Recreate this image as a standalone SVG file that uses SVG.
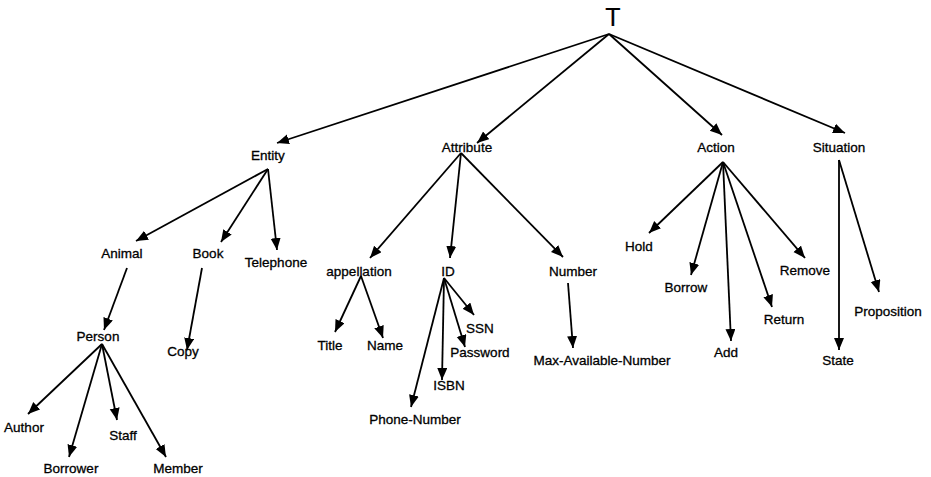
<svg xmlns="http://www.w3.org/2000/svg" width="931" height="477" viewBox="0 0 931 477">
  <defs>
    <marker id="arrow" markerUnits="userSpaceOnUse" markerWidth="13" markerHeight="11" refX="12" refY="5" orient="auto">
      <path d="M0,0 L12,5 L0,10 Z" fill="#000"/>
    </marker>
  </defs>
  <style>
    text { font-family: "Liberation Sans", Arial, sans-serif; font-size: 13.5px; fill: #000; stroke: #000; stroke-width: 0.3; text-anchor: middle; }
    .root { font-size: 25px; stroke-width: 0.2; }
    .edge { stroke: #000; stroke-width: 1.8; fill: none; marker-end: url(#arrow); }
  </style>
  <rect width="931" height="477" fill="#fff"/>

  <!-- connectors -->
  <g id="connectors">
    <line class="edge" x1="609" y1="34" x2="277" y2="143"/>
    <line class="edge" x1="609" y1="34" x2="477" y2="143"/>
    <line class="edge" x1="609" y1="34" x2="722" y2="135"/>
    <line class="edge" x1="609" y1="34" x2="845" y2="133"/>

    <line class="edge" x1="268" y1="169" x2="136" y2="241"/>
    <line class="edge" x1="268" y1="169" x2="221" y2="242"/>
    <line class="edge" x1="268" y1="169" x2="277" y2="250"/>

    <line class="edge" x1="127" y1="268" x2="104" y2="330"/>
    <line class="edge" x1="202" y1="268" x2="187" y2="350"/>

    <line class="edge" x1="102" y1="344" x2="28" y2="414"/>
    <line class="edge" x1="102" y1="344" x2="69" y2="457"/>
    <line class="edge" x1="102" y1="344" x2="117" y2="420"/>
    <line class="edge" x1="102" y1="344" x2="166" y2="457"/>

    <line class="edge" x1="461" y1="153" x2="370" y2="258"/>
    <line class="edge" x1="461" y1="153" x2="450" y2="258"/>
    <line class="edge" x1="461" y1="153" x2="563" y2="257"/>

    <line class="edge" x1="361" y1="276" x2="335" y2="332"/>
    <line class="edge" x1="361" y1="276" x2="383" y2="338"/>

    <line class="edge" x1="444" y1="278" x2="474" y2="315"/>
    <line class="edge" x1="444" y1="278" x2="465" y2="347"/>
    <line class="edge" x1="444" y1="278" x2="442" y2="380"/>
    <line class="edge" x1="444" y1="278" x2="411" y2="407"/>

    <line class="edge" x1="568" y1="283" x2="573" y2="348"/>

    <line class="edge" x1="723" y1="162" x2="649" y2="233"/>
    <line class="edge" x1="723" y1="162" x2="691" y2="275"/>
    <line class="edge" x1="723" y1="162" x2="731" y2="341"/>
    <line class="edge" x1="723" y1="162" x2="772" y2="307"/>
    <line class="edge" x1="723" y1="162" x2="805" y2="258"/>

    <line class="edge" x1="839" y1="160" x2="839" y2="350"/>
    <line class="edge" x1="839" y1="160" x2="879" y2="292"/>
  </g>

  <!-- nodes -->
  <g id="node-T"><text class="root" x="613" y="26">T</text></g>

  <g id="node-Entity"><text x="268" y="160">Entity</text></g>
  <g id="node-Attribute"><text x="467" y="152">Attribute</text></g>
  <g id="node-Action"><text x="716" y="152">Action</text></g>
  <g id="node-Situation"><text x="839" y="152">Situation</text></g>

  <g id="node-Animal"><text x="122" y="258">Animal</text></g>
  <g id="node-Book"><text x="208" y="258">Book</text></g>
  <g id="node-Telephone"><text x="276" y="267">Telephone</text></g>

  <g id="node-Person"><text x="98" y="341">Person</text></g>
  <g id="node-Copy"><text x="183" y="356">Copy</text></g>

  <g id="node-Author"><text x="24" y="432">Author</text></g>
  <g id="node-Borrower"><text x="71" y="473">Borrower</text></g>
  <g id="node-Staff"><text x="123" y="440">Staff</text></g>
  <g id="node-Member"><text x="178" y="473">Member</text></g>

  <g id="node-appellation"><text x="359" y="276">appellation</text></g>
  <g id="node-ID"><text x="448" y="276">ID</text></g>
  <g id="node-Number"><text x="573" y="276">Number</text></g>

  <g id="node-Title"><text x="330" y="350">Title</text></g>
  <g id="node-Name"><text x="385" y="350">Name</text></g>

  <g id="node-SSN"><text x="480" y="333">SSN</text></g>
  <g id="node-Password"><text x="480" y="357">Password</text></g>
  <g id="node-ISBN"><text x="449" y="390">ISBN</text></g>
  <g id="node-Phone-Number"><text x="415" y="424">Phone-Number</text></g>

  <g id="node-Max-Available-Number"><text x="602" y="365">Max-Available-Number</text></g>

  <g id="node-Hold"><text x="639" y="251">Hold</text></g>
  <g id="node-Borrow"><text x="686" y="292">Borrow</text></g>
  <g id="node-Add"><text x="726" y="357">Add</text></g>
  <g id="node-Return"><text x="784" y="324">Return</text></g>
  <g id="node-Remove"><text x="805" y="275">Remove</text></g>

  <g id="node-State"><text x="838" y="365">State</text></g>
  <g id="node-Proposition"><text x="888" y="316">Proposition</text></g>
</svg>
